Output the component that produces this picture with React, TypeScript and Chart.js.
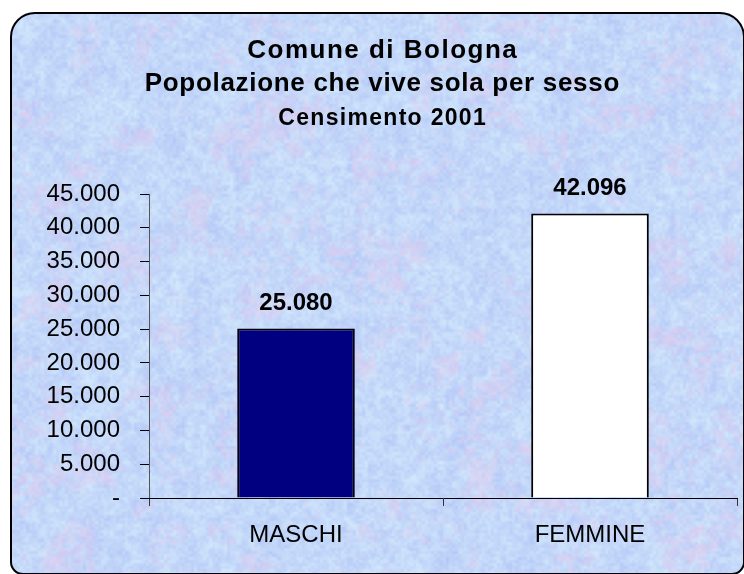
import React, { useEffect, useRef } from "react";
import { Chart, registerables } from "chart.js";

Chart.register(...registerables);

const categories = ["MASCHI", "FEMMINE"];
const values = [25080, 42096];
const barColors = ["#000080", "#ffffff"];
const titleLines = ["Comune di Bologna", "Popolazione che vive sola per sesso", "Censimento 2001"];
const yMax = 45000;
const yStep = 5000;

const FONT = 'Arial, "Liberation Sans", sans-serif';

function fmt(v: number): string {
  if (v === 0) return "-";
  const s = Math.round(v).toString();
  return s.replace(/\B(?=(\d{3})+(?!\d))/g, ".");
}

function hash(ix: number, iy: number, seed: number): number {
  const s = Math.sin(ix * 127.1 + iy * 311.7 + seed * 74.7) * 43758.5453;
  return s - Math.floor(s);
}
function vnoise(x: number, y: number, seed: number): number {
  const ix = Math.floor(x), iy = Math.floor(y);
  const fx = x - ix, fy = y - iy;
  const sx = fx * fx * (3 - 2 * fx), sy = fy * fy * (3 - 2 * fy);
  const a = hash(ix, iy, seed), b = hash(ix + 1, iy, seed);
  const c = hash(ix, iy + 1, seed), d = hash(ix + 1, iy + 1, seed);
  const top = a + (b - a) * sx;
  const bot = c + (d - c) * sx;
  return top + (bot - top) * sy;
}

function makeTexture(w: number, h: number): HTMLCanvasElement {
  const cv = document.createElement("canvas");
  cv.width = w;
  cv.height = h;
  const g = cv.getContext("2d")!;
  const img = g.createImageData(w, h);
  const d = img.data;
  for (let y = 0; y < h; y++) {
    for (let x = 0; x < w; x++) {
      const t =
        vnoise(x / 3, y / 3, 1) * 0.4 +
        vnoise(x / 7, y / 7, 2) * 0.4 +
        vnoise(x / 22, y / 22, 3) * 0.2;
      let p = vnoise(x / 28, y / 28, 5) * 0.55 + vnoise(x / 6, y / 6, 6) * 0.45;
      p = Math.max(0, Math.min(1, (p - 0.52) * 2.4));
      // light cyan-blue -> periwinkle
      let r = 212 + (178 - 212) * t;
      let gg = 236 + (196 - 236) * t;
      let b = 252 + (246 - 252) * t;
      // toward light pink
      r = r + (228 - r) * p * 0.6;
      gg = gg + (200 - gg) * p * 0.6;
      b = b + (236 - b) * p * 0.6;
      const i = (y * w + x) * 4;
      d[i] = r;
      d[i + 1] = gg;
      d[i + 2] = b;
      d[i + 3] = 255;
    }
  }
  g.putImageData(img, 0, 0);
  return cv;
}

function framePath(ctx: CanvasRenderingContext2D) {
  ctx.beginPath();
  (ctx as any).roundRect(11, 13, 733, 561, [24, 24, 12, 12]);
}

export default function App() {
  const ref = useRef<HTMLCanvasElement | null>(null);

  useEffect(() => {
    const canvas = ref.current;
    if (!canvas) return;
    const texture = makeTexture(744, 574);

    const bgPlugin = {
      id: "bgFrame",
      beforeDraw(chart: any) {
        const ctx = chart.ctx as CanvasRenderingContext2D;
        ctx.save();
        ctx.fillStyle = "#ffffff";
        ctx.fillRect(0, 0, chart.width, chart.height);
        framePath(ctx);
        ctx.save();
        ctx.clip();
        ctx.drawImage(texture, 0, 0);
        ctx.restore();
        framePath(ctx);
        ctx.lineWidth = 2;
        ctx.strokeStyle = "#000";
        ctx.stroke();
        // titles
        ctx.fillStyle = "#000";
        ctx.textAlign = "center";
        ctx.textBaseline = "alphabetic";
        const specs = [
          { size: 26, ls: 1.5, y: 58 },
          { size: 26, ls: 0.7, y: 91 },
          { size: 23, ls: 1.3, y: 125 },
        ];
        titleLines.forEach((t, i) => {
          const s = specs[i];
          ctx.font = `bold ${s.size}px ${FONT}`;
          (ctx as any).letterSpacing = `${s.ls}px`;
          ctx.fillText(t, 382 + s.ls / 2, s.y);
        });
        (ctx as any).letterSpacing = "0px";
        ctx.restore();
      },
    };

    const labelPlugin = {
      id: "valueLabels",
      afterDatasetsDraw(chart: any) {
        const ctx = chart.ctx as CanvasRenderingContext2D;
        const meta = chart.getDatasetMeta(0);
        ctx.save();
        ctx.fillStyle = "#000";
        ctx.font = `bold 24px ${FONT}`;
        ctx.textAlign = "center";
        ctx.textBaseline = "alphabetic";
        meta.data.forEach((bar: any, i: number) => {
          ctx.fillText(fmt(values[i]), bar.x, bar.y - 19);
        });
        ctx.restore();
      },
    };

    const chart = new Chart(canvas, {
      type: "bar",
      data: {
        labels: categories,
        datasets: [
          {
            data: values,
            backgroundColor: barColors,
            borderColor: "#000",
            borderWidth: 2,
            barPercentage: 0.4,
            categoryPercentage: 1,
          },
        ],
      },
      options: {
        responsive: false,
        animation: false,
        devicePixelRatio: 1,
        layout: { padding: { top: 194, right: 7, left: 0, bottom: 0 } },
        plugins: {
          legend: { display: false },
          title: { display: false },
          tooltip: { enabled: false },
        },
        scales: {
          y: {
            min: 0,
            max: yMax,
            ticks: {
              stepSize: yStep,
              color: "#000",
              padding: 20,
              font: { family: FONT, size: 24 },
              callback: (v: any) => fmt(Number(v)),
            },
            grid: { drawOnChartArea: false, drawTicks: true, tickLength: 9, color: "#000" },
            border: { color: "#555", width: 1 },
            afterFit: (scale: any) => {
              scale.width = 149;
            },
          },
          x: {
            ticks: {
              color: "#000",
              padding: 15,
              font: { family: FONT, size: 24 },
            },
            grid: { drawOnChartArea: false, drawTicks: true, tickLength: 8, color: "#333", offset: true },
            border: { color: "#000", width: 1 },
            afterFit: (scale: any) => {
              scale.height = 76;
            },
          },
        },
      } as any,
      plugins: [bgPlugin, labelPlugin],
    });

    return () => {
      chart.destroy();
    };
  }, []);

  return (
    <div style={{ position: "fixed", left: 0, top: 0, width: 744, height: 574, background: "#fff" }}>
      <canvas ref={ref} width={744} height={574} style={{ display: "block" }} />
    </div>
  );
}
